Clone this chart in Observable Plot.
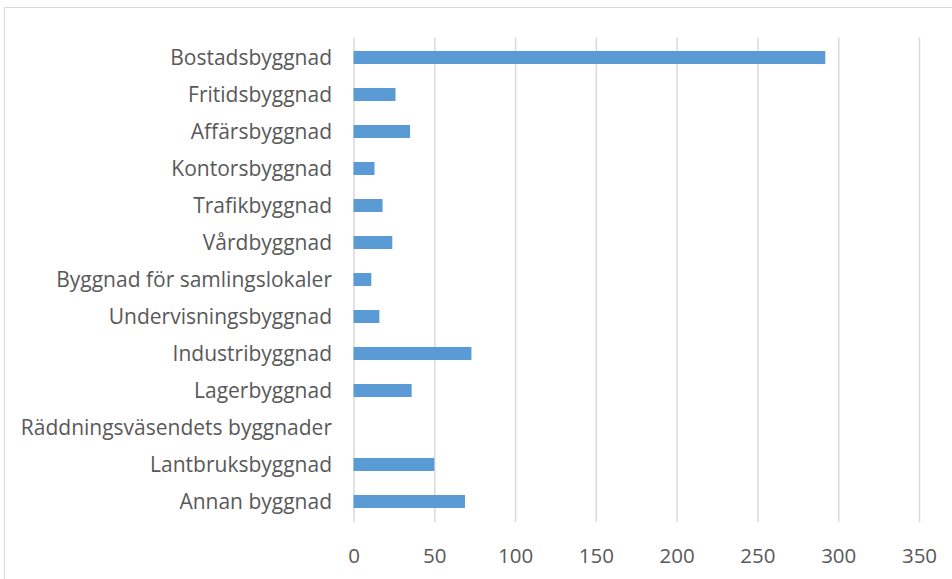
<!DOCTYPE html>
<html>
<head>
<meta charset="utf-8">
<script src="https://cdn.jsdelivr.net/npm/d3@7"></script>
<script src="https://cdn.jsdelivr.net/npm/@observablehq/plot@0.6"></script>
<style>
  body { margin: 0; background: #fff; }
  #wrap { position: relative; width: 952px; height: 579px; overflow: hidden; }
  #border { position: absolute; left: 4px; top: 7px; width: 960px; height: 590px; border: 1.5px solid #d9d9d9; box-sizing: border-box; }
  #chart { position: absolute; left: 0; top: 0; }
</style>
</head>
<body>
<div id="wrap"><div id="border"></div><div id="chart"></div></div>
<script>
const categories = [
  "Bostadsbyggnad",
  "Fritidsbyggnad",
  "Affärsbyggnad",
  "Kontorsbyggnad",
  "Trafikbyggnad",
  "Vårdbyggnad",
  "Byggnad för samlingslokaler",
  "Undervisningsbyggnad",
  "Industribyggnad",
  "Lagerbyggnad",
  "Räddningsväsendets byggnader",
  "Lantbruksbyggnad",
  "Annan byggnad"
];
const values = [292, 26, 35, 13, 18, 24, 11, 16, 73, 36, 0, 50, 69];
const xTicks = [0, 50, 100, 150, 200, 250, 300, 350];

const data = categories.map((c, i) => ({category: c, value: values[i]}));

const chart = Plot.plot({
  width: 952,
  height: 579,
  marginLeft: 353.5,
  marginRight: 33,
  marginTop: 37.5,
  marginBottom: 57,
  style: {fontFamily: "'Open Sans', sans-serif", fontSize: "20px", color: "#595959", background: "transparent"},
  x: {domain: [0, 350], ticks: xTicks, tickSize: 0, label: null},
  y: {domain: categories, paddingInner: 0.65, paddingOuter: 0.325, align: 0.5, tickSize: 0, label: null},
  marks: [
    Plot.gridX(xTicks, {stroke: "#d9d9d9", strokeOpacity: 1, strokeWidth: 1.5}),
    Plot.barX(data, {y: "category", x: "value", fill: "#5b9bd5"}),
    Plot.axisX({ticks: xTicks, tickSize: 0, tickPadding: 26, fontSize: 20.5, fill: "#595959"}),
    Plot.axisY({tickSize: 0, tickPadding: 22, fontSize: 21, fill: "#595959"})
  ]
});
document.getElementById("chart").appendChild(chart);
</script>
</body>
</html>
